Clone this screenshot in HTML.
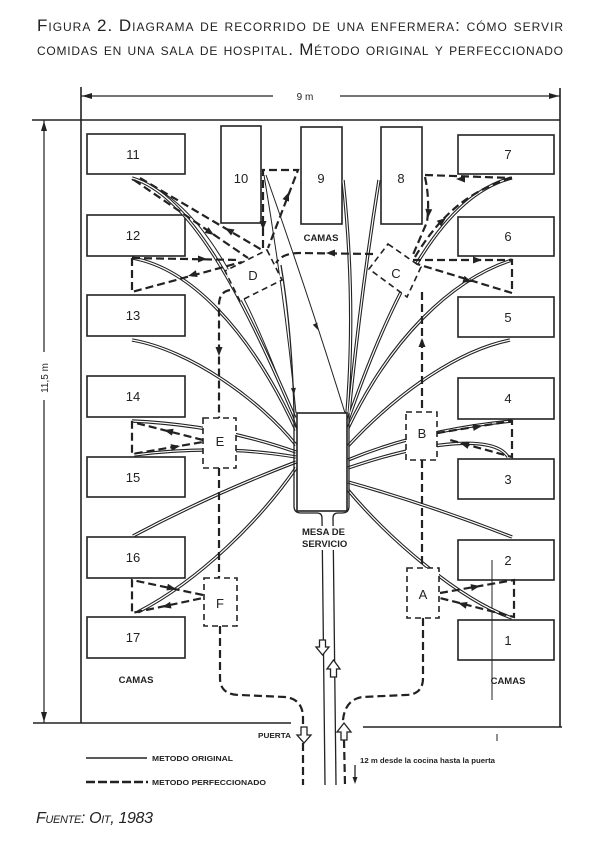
<!DOCTYPE html>
<html><head><meta charset="utf-8">
<style>
html,body{margin:0;padding:0;background:#fff;}
svg{display:block;}
</style></head>
<body>
<svg width="600" height="854" viewBox="0 0 600 854" xmlns="http://www.w3.org/2000/svg" font-family="'Liberation Sans', sans-serif">
<rect width="600" height="854" fill="#fff"/>

<!-- Title -->
<g fill="#222" style="font-variant:small-caps">
<text x="37" y="31" font-size="17" textLength="526" lengthAdjust="spacing">Figura 2. Diagrama de recorrido de una enfermera: cómo servir</text>
<text x="37" y="55" font-size="17" textLength="526" lengthAdjust="spacing">comidas en una sala de hospital. Método original y perfeccionado</text>
</g>

<!-- Dimensions -->
<g stroke="#222" stroke-width="1.2" fill="none">
<line x1="81" y1="96" x2="273" y2="96"/>
<line x1="340" y1="96" x2="560" y2="96"/>
<line x1="44" y1="120" x2="44" y2="352"/>
<line x1="44" y1="400" x2="44" y2="723"/>
</g>
<g fill="#222">
<path d="M82,96 L92,93 L92,99 Z"/>
<path d="M559,96 L549,93 L549,99 Z"/>
<path d="M44,121 L41,131 L47,131 Z"/>
<path d="M44,722 L41,712 L47,712 Z"/>
<text x="305" y="100" font-size="10" text-anchor="middle">9 m</text>
<text transform="translate(48,378) rotate(-90)" font-size="10" text-anchor="middle">11,5 m</text>
</g>

<!-- Walls -->
<g stroke="#222" stroke-width="1.6" fill="none">
<line x1="32" y1="120" x2="560" y2="120"/>
<line x1="81" y1="87" x2="81" y2="723"/>
<line x1="560" y1="88" x2="560" y2="727"/>
<line x1="33" y1="723" x2="291" y2="723"/>
<line x1="363" y1="727" x2="562" y2="727"/>
</g>

<!-- Beds -->
<g stroke="#222" stroke-width="1.6" fill="#fff">
<rect x="87" y="134" width="98" height="40"/>
<rect x="87" y="215" width="98" height="41"/>
<rect x="87" y="295" width="98" height="41"/>
<rect x="87" y="376" width="98" height="41"/>
<rect x="87" y="457" width="98" height="40"/>
<rect x="87" y="537" width="98" height="41"/>
<rect x="87" y="617" width="98" height="41"/>
<rect x="458" y="135" width="96" height="39"/>
<rect x="458" y="217" width="96" height="39"/>
<rect x="458" y="297" width="96" height="40"/>
<rect x="458" y="378" width="96" height="41"/>
<rect x="458" y="459" width="96" height="40"/>
<rect x="458" y="540" width="96" height="40"/>
<rect x="458" y="620" width="96" height="40"/>
<rect x="221" y="126" width="40" height="97"/>
<rect x="301" y="127" width="41" height="97"/>
<rect x="381" y="127" width="41" height="97"/>
</g>
<g fill="#222" font-size="13" text-anchor="middle">
<text x="133" y="159">11</text>
<text x="133" y="240">12</text>
<text x="133" y="320">13</text>
<text x="133" y="401">14</text>
<text x="133" y="482">15</text>
<text x="133" y="562">16</text>
<text x="133" y="642">17</text>
<text x="508" y="159">7</text>
<text x="508" y="241">6</text>
<text x="508" y="322">5</text>
<text x="508" y="403">4</text>
<text x="508" y="484">3</text>
<text x="508" y="565">2</text>
<text x="508" y="645">1</text>
<text x="241" y="183">10</text>
<text x="321" y="183">9</text>
<text x="401" y="183">8</text>
</g>
<g fill="#222" font-size="9.5" font-weight="bold" text-anchor="middle">
<text x="321" y="241">CAMAS</text>
<text x="136" y="683">CAMAS</text>
<text x="508" y="684">CAMAS</text>
</g>

<!-- thin original lines -->
<g stroke="#222" stroke-width="1" fill="none">
<path d="M264,175 Q 285,300 296,413"/>
<path d="M266,175 Q 310,300 345,413"/>
<path d="M132,180 C 200,192 252,300 297,428"/>
<line x1="492" y1="560" x2="492" y2="700"/>
<line x1="497" y1="734" x2="497" y2="741"/>
</g>

<!-- double lines (original method) -->
<g stroke="#222" stroke-width="3.4" fill="none">
<g id="dl">
<path d="M132,178 C 190,195 240,290 295,418"/>
<path d="M132,258 C 190,268 250,330 296,430"/>
<path d="M132,340 C 190,350 260,400 296,445"/>
<path d="M132,421 Q 220,425 296,452"/>
<path d="M134,455 Q 220,444 296,457"/>
<path d="M133,536 Q 210,495 296,462"/>
<path d="M138,612 C 200,580 260,520 296,468"/>
<path d="M512,178 C 440,195 390,300 348,420"/>
<path d="M512,260 C 450,280 390,340 348,428"/>
<path d="M510,340 C 460,350 400,390 348,446"/>
<path d="M512,421 Q 420,430 348,460"/>
<path d="M508,457 C 495,435 430,440 348,468"/>
<path d="M512,537 Q 430,505 348,482"/>
<path d="M512,618 C 460,600 390,540 348,490"/>
<path d="M343,180 Q 356,300 347,413"/>
<path d="M379,180 Q 360,300 349,413"/>
</g>
</g>
<use href="#dl" stroke="#fff" stroke-width="1.2" fill="none"/>

<!-- Mesa de servicio -->
<g stroke="#222" stroke-width="1.3" fill="none">
<path d="M281,265 Q 292,330 294,413 L294,506 Q294,513 301,513 L317,513 Q322,513 322,518 L325,785"/>
<path d="M349,413 L349,506 Q349,513 342,513 L338,513 Q333,513 333,518 L336,785"/>
</g>
<rect x="297" y="413" width="50" height="98" fill="#fff" stroke="#222" stroke-width="1.6"/>
<rect x="299" y="526" width="56" height="24" fill="#fff"/>
<g fill="#222" font-size="9.5" font-weight="bold">
<text x="302" y="535">MESA DE</text>
<text x="302" y="547">SERVICIO</text>
</g>

<!-- stations -->
<g stroke="#222" stroke-width="1.6" fill="#fff" stroke-dasharray="6 4">
<polygon points="267,250 282,280 240,301 225,271"/>
<polygon points="388,244 421,267 407,297 369,269"/>
<rect x="203" y="418" width="33" height="50"/>
<rect x="406" y="412" width="31" height="48"/>
<rect x="204" y="578" width="33" height="48"/>
<rect x="407" y="568" width="32" height="50"/>
</g>
<g fill="#222" font-size="13" text-anchor="middle">
<text x="253" y="280">D</text>
<text x="396" y="278">C</text>
<text x="220" y="446">E</text>
<text x="422" y="438">B</text>
<text x="220" y="608">F</text>
<text x="423" y="599">A</text>
</g>

<!-- dashed improved method -->
<g stroke="#222" stroke-width="2.2" fill="none" stroke-dasharray="8 4">
<path d="M134,180 L248,258"/>
<path d="M140,178 L262,250"/>
<path d="M132,258 L240,260"/>
<path d="M132,258 L132,292 L242,262"/>
<path d="M263,248 L263,170 L298,170 L268,248"/>
<path d="M373,254 L300,253 Q 282,253 276,263"/>
<path d="M230,290 Q 219,292 219,305 L219,418"/>
<path d="M219,468 L219,578"/>
<path d="M220,626 L220,678 Q 220,695 240,695 L285,697 Q 303,699 303,718 L303,727"/>
<path d="M303,743 L303,785"/>
<path d="M422,292 L422,412"/>
<path d="M422,460 L422,568"/>
<path d="M423,618 L423,678 Q 423,695 405,695 L362,697 Q 345,700 343,720 L343,723"/>
<path d="M344,740 L345,785"/>
<path d="M425,175 L512,178"/>
<path d="M425,177 Q 430,200 427,222 L412,257"/>
<path d="M415,257 C 440,215 470,190 512,178"/>
<path d="M413,260 L512,260 L512,293 L417,264"/>
<path d="M437,433 L512,421 L512,457 L450,440"/>
<path d="M440,593 L514,580 L514,617 L440,598"/>
<path d="M203,440 L132,422 L132,454 L203,442"/>
<path d="M203,595 L132,580 L132,613 L203,598"/>
</g>

<!-- arrowheads -->
<g fill="#222">
<path d="M0,0 L-9,-3.5 L-9,3.5 Z" transform="translate(214,235) rotate(34)"/>
<path d="M0,0 L-9,-3.5 L-9,3.5 Z" transform="translate(225,228) rotate(210)"/>
<path d="M0,0 L-9,-3.5 L-9,3.5 Z" transform="translate(207,259) rotate(0)"/>
<path d="M0,0 L-9,-3.5 L-9,3.5 Z" transform="translate(188,276) rotate(165)"/>
<path d="M0,0 L-9,-3.5 L-9,3.5 Z" transform="translate(263,230) rotate(90)"/>
<path d="M0,0 L-9,-3.5 L-9,3.5 Z" transform="translate(289,192) rotate(-69)"/>
<path d="M0,0 L-9,-3.5 L-9,3.5 Z" transform="translate(326,253) rotate(180)"/>
<path d="M0,0 L-9,-3.5 L-9,3.5 Z" transform="translate(219,356) rotate(90)"/>
<path d="M0,0 L-9,-3.5 L-9,3.5 Z" transform="translate(422,338) rotate(-90)"/>
<path d="M0,0 L-9,-3.5 L-9,3.5 Z" transform="translate(456,179) rotate(180)"/>
<path d="M0,0 L-9,-3.5 L-9,3.5 Z" transform="translate(428,218) rotate(95)"/>
<path d="M0,0 L-9,-3.5 L-9,3.5 Z" transform="translate(446,218) rotate(-38)"/>
<path d="M0,0 L-9,-3.5 L-9,3.5 Z" transform="translate(482,260) rotate(0)"/>
<path d="M0,0 L-9,-3.5 L-9,3.5 Z" transform="translate(472,282) rotate(18)"/>
<path d="M0,0 L-9,-3.5 L-9,3.5 Z" transform="translate(482,426) rotate(-9)"/>
<path d="M0,0 L-9,-3.5 L-9,3.5 Z" transform="translate(460,443) rotate(196)"/>
<path d="M0,0 L-9,-3.5 L-9,3.5 Z" transform="translate(480,586) rotate(-10)"/>
<path d="M0,0 L-9,-3.5 L-9,3.5 Z" transform="translate(458,603) rotate(195)"/>
<path d="M0,0 L-9,-3.5 L-9,3.5 Z" transform="translate(164,430) rotate(194)"/>
<path d="M0,0 L-9,-3.5 L-9,3.5 Z" transform="translate(180,446) rotate(-10)"/>
<path d="M0,0 L-9,-3.5 L-9,3.5 Z" transform="translate(176,589) rotate(12)"/>
<path d="M0,0 L-9,-3.5 L-9,3.5 Z" transform="translate(162,607) rotate(168)"/>
<path d="M0,0 L-7,-2.5 L-7,2.5 Z" transform="translate(294,395) rotate(85)"/>
<path d="M0,0 L-7,-2.5 L-7,2.5 Z" transform="translate(318,330) rotate(65)"/>
<path d="M0,0 L-7,-2.5 L-7,2.5 Z" transform="translate(355,784) rotate(90)"/>
</g>
<line x1="355" y1="765" x2="355" y2="780" stroke="#222" stroke-width="1.3"/>

<!-- hollow arrows -->
<g fill="#fff" stroke="#222" stroke-width="1.3">
<path d="M319.5,640 L325.5,640 L325.5,647 L329,647 L322.5,655 L316,647 L319.5,647 Z"/>
<path d="M330.5,677 L336.5,677 L336.5,669 L340,669 L333.5,660 L327,669 L330.5,669 Z"/>
<path d="M301,727 L307,727 L307,735 L311,735 L304,743 L297,735 L301,735 Z"/>
<path d="M341,740 L347,740 L347,732 L351,732 L344,723 L337,732 L341,732 Z"/>
</g>

<!-- Labels bottom -->
<g fill="#222" font-weight="bold">
<text x="258" y="738" font-size="7.5" textLength="33" lengthAdjust="spacingAndGlyphs">PUERTA</text>
<text x="152" y="761" font-size="7.5" textLength="81" lengthAdjust="spacingAndGlyphs">METODO ORIGINAL</text>
<text x="152" y="785" font-size="7.5" textLength="114" lengthAdjust="spacingAndGlyphs">METODO PERFECCIONADO</text>
<text x="360" y="763" font-size="7" textLength="135" lengthAdjust="spacingAndGlyphs">12 m desde la cocina hasta la puerta</text>
</g>
<line x1="86" y1="758" x2="147" y2="758" stroke="#222" stroke-width="1.4"/>
<line x1="86" y1="782" x2="148" y2="782" stroke="#222" stroke-width="2.6" stroke-dasharray="9 3"/>

<!-- Footer -->
<text x="36" y="823" font-size="16" font-style="italic" fill="#222" style="font-variant:small-caps" textLength="117" lengthAdjust="spacing">Fuente: Oit, 1983</text>
</svg>
</body></html>
